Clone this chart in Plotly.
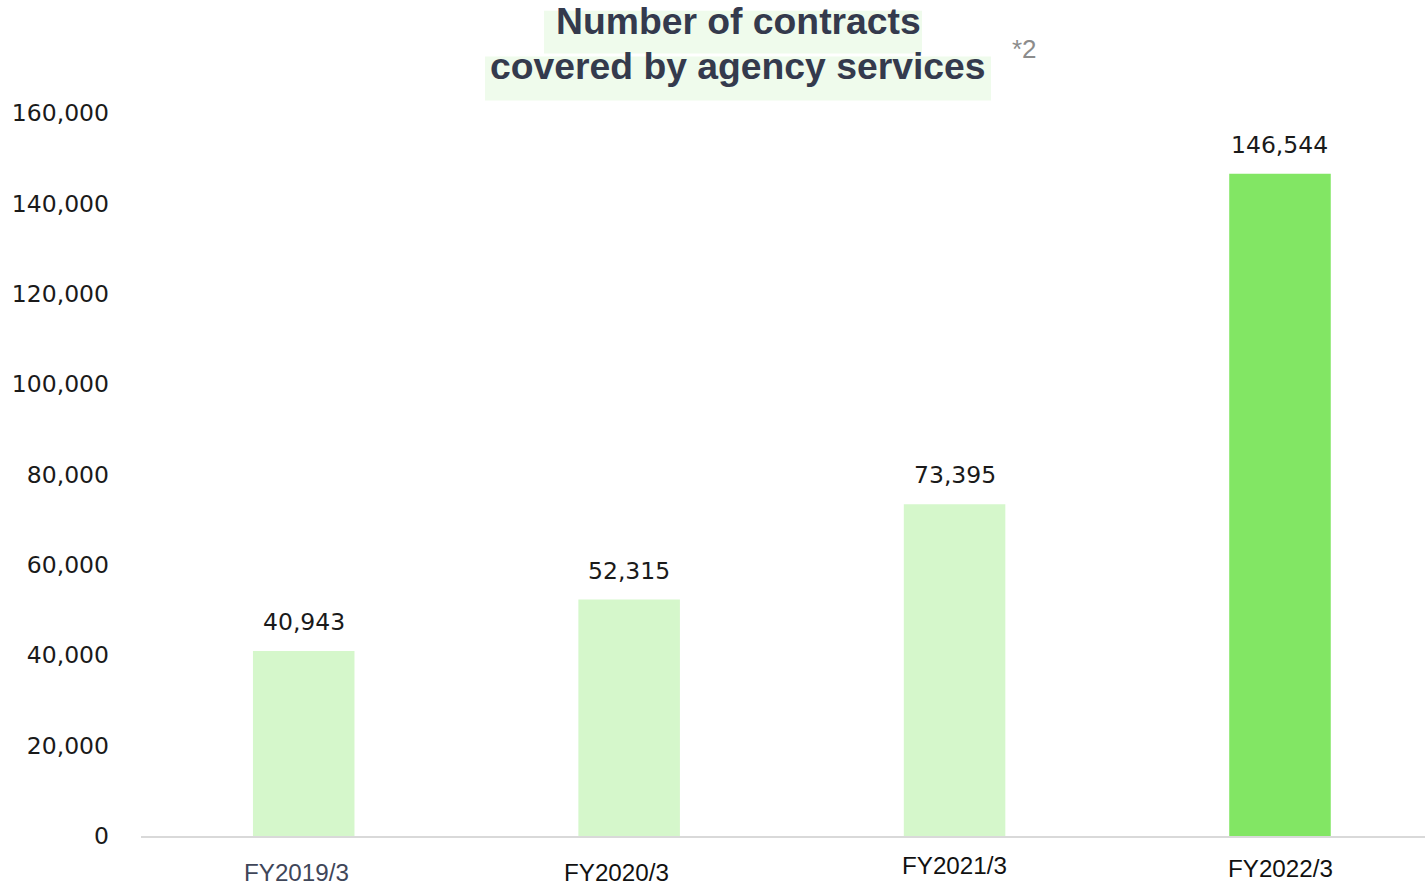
import plotly.graph_objects as go

# Chart data
categories = ["FY2019/3", "FY2020/3", "FY2021/3", "FY2022/3"]
contracts = [40943, 52315, 73395, 146544]
bar_colors = ["#d5f7cb", "#d5f7cb", "#d5f7cb", "#82e664"]
y_ticks = [0, 20000, 40000, 60000, 80000, 100000, 120000, 140000, 160000]
title_lines = ["Number of contracts", "covered by agency services"]
footnote = "*2"

W, H = 1425, 885
L, R, T, B = 141, 0, 112.5, 48.5
PW, PH = W - L - R, H - T - B


def px(x):
    return (x - L) / PW


def py(y):
    return (H - B - y) / PH


fig = go.Figure(
    go.Bar(
        x=list(range(len(categories))),
        y=contracts,
        marker=dict(color=bar_colors, line=dict(width=0)),
        width=0.312,
        hoverinfo="skip",
    )
)

annotations = []

# value labels above each bar
for i, v in enumerate(contracts):
    annotations.append(dict(
        x=i, y=v, xref="x", yref="y", text=f"{v:,}", showarrow=False,
        yanchor="bottom", yshift=13,
        font=dict(family="DejaVu Sans", size=23.5, color="#1a1a1a"),
    ))

# category labels under the axis
cat_offsets = [(-7, 873, "#3f4659"), (-13, 873, "#111111"), (0, 866, "#111111"), (1, 869, "#111111")]
for i, (name, (dx, yc, col)) in enumerate(zip(categories, cat_offsets)):
    annotations.append(dict(
        x=i, y=py(yc), xref="x", yref="paper", text=name, showarrow=False,
        xshift=dx, yanchor="middle",
        font=dict(family="Liberation Sans", size=24.2, color=col),
    ))

# two-line heading with highlighted backgrounds
shapes = [
    dict(type="rect", xref="paper", yref="paper", x0=px(544), x1=px(922), y0=py(53), y1=py(10),
         fillcolor="#effbec", line=dict(width=0), layer="below"),
    dict(type="rect", xref="paper", yref="paper", x0=px(485), x1=px(991), y0=py(100), y1=py(56),
         fillcolor="#effbec", line=dict(width=0), layer="below"),
]
for line, yc in zip(title_lines, [20, 65]):
    annotations.append(dict(
        x=px(738), y=py(yc), xref="paper", yref="paper", text=f"<b>{line}</b>",
        showarrow=False, xanchor="center", yanchor="middle",
        font=dict(family="Liberation Sans", size=37.3, color="#343a4d"),
    ))
annotations.append(dict(
    x=px(1024.5), y=py(48), xref="paper", yref="paper", text=footnote,
    showarrow=False, xanchor="center", yanchor="middle",
    font=dict(family="Liberation Sans", size=26, color="#8c8c8c"),
))

fig.update_layout(
    width=W, height=H,
    margin=dict(l=L, r=R, t=T, b=B, pad=0),
    paper_bgcolor="white", plot_bgcolor="white",
    showlegend=False,
    annotations=annotations,
    shapes=shapes,
    xaxis=dict(
        range=[-0.5, 3.4456], showticklabels=False, showgrid=False, zeroline=False,
        showline=True, linecolor="#d9d9d9", linewidth=2, ticks="", fixedrange=True,
    ),
    yaxis=dict(
        range=[0, 160000], tickvals=y_ticks, tickformat=",", showgrid=False,
        zeroline=False, showline=False, ticks="", ticklabelstandoff=31,
        tickfont=dict(family="DejaVu Sans", size=23.5, color="#1a1a1a"), fixedrange=True,
    ),
)

fig.write_html("out.html", config={"displayModeBar": False})
